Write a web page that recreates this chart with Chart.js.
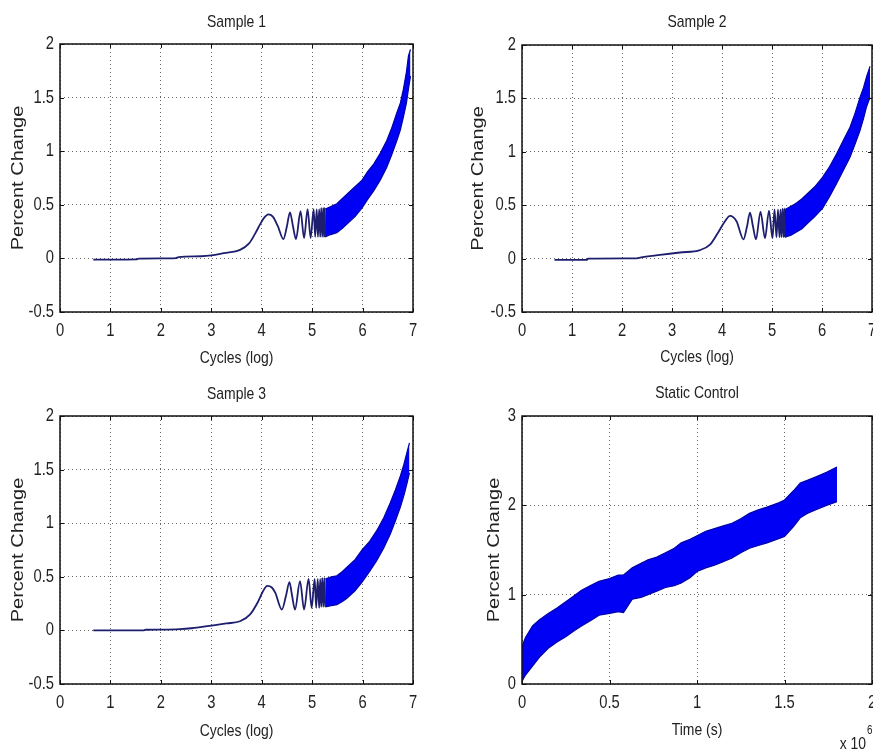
<!DOCTYPE html>
<html><head><meta charset="utf-8">
<script src="https://cdn.jsdelivr.net/npm/chart.js@4.4.1/dist/chart.umd.min.js"></script>
<style>
html,body{margin:0;padding:0;background:#fff;}
#wrap{position:relative;width:873px;height:753px;overflow:hidden;background:#fff;}
canvas{position:absolute;}
</style></head><body>
<div id="wrap">
<canvas id="c1" width="436" height="376" style="left:0;top:0"></canvas>
<canvas id="c2" width="437" height="376" style="left:436px;top:0"></canvas>
<canvas id="c3" width="436" height="380" style="left:0;top:373px"></canvas>
<canvas id="c4" width="437" height="380" style="left:436px;top:373px"></canvas>
</div>
<script>
// ---------- Data ----------
const titles = ['Sample 1', 'Sample 2', 'Sample 3', 'Static Control'];
const xTitleCycles = 'Cycles (log)';
const xTitleTime = 'Time (s)';
const yTitle = 'Percent Change';
const timeExponent = ['x 10', '6'];

const cycleTicks = [0, 1, 2, 3, 4, 5, 6, 7];
const pctTicks = [-0.5, 0, 0.5, 1, 1.5, 2];
const timeTicks = [0, 0.5, 1, 1.5, 2];      // x 10^6 s
const staticTicks = [0, 1, 2, 3];

// Sample 1: low-amplitude line, then band (upper/lower envelope)
const s1LineX = [0.66, 1.0, 1.52, 1.56, 2.0, 2.3, 2.35, 2.8, 3.0, 3.25, 3.57, 3.75, 3.88, 3.97, 4.05, 4.13, 4.22, 4.32, 4.43, 4.5, 4.56, 4.62, 4.68, 4.77, 4.84, 4.91, 4.97, 5.03, 5.06, 5.09, 5.115, 5.14, 5.16, 5.18, 5.2, 5.22, 5.235, 5.25, 5.26];
const s1LineY = [-0.012, -0.012, -0.01, -0.002, 0.0, 0.003, 0.012, 0.02, 0.028, 0.05, 0.08, 0.14, 0.24, 0.32, 0.38, 0.41, 0.39, 0.3, 0.18, 0.3, 0.43, 0.3, 0.18, 0.44, 0.19, 0.46, 0.19, 0.46, 0.2, 0.46, 0.2, 0.46, 0.2, 0.47, 0.2, 0.47, 0.2, 0.47, 0.2];
const s1BandX = [5.26, 5.35, 5.49, 5.6, 5.69, 5.85, 5.99, 6.1, 6.22, 6.35, 6.48, 6.58, 6.68, 6.75, 6.81, 6.87, 6.91, 6.95];
const s1BandUpper = [0.46, 0.48, 0.51, 0.56, 0.60, 0.67, 0.73, 0.81, 0.88, 0.98, 1.10, 1.22, 1.36, 1.45, 1.58, 1.74, 1.89, 1.95];
const s1BandLower = [0.20, 0.22, 0.24, 0.28, 0.32, 0.39, 0.47, 0.55, 0.63, 0.73, 0.85, 0.97, 1.10, 1.20, 1.32, 1.45, 1.58, 1.70];

// Sample 2
const s2LineX = [0.65, 1.3, 1.32, 2.3, 2.36, 2.76, 3.16, 3.56, 3.76, 3.93, 4.06, 4.16, 4.29, 4.43, 4.5, 4.56, 4.62, 4.68, 4.77, 4.86, 4.94, 5.01, 5.05, 5.09, 5.12, 5.15, 5.17, 5.19, 5.21, 5.23, 5.245, 5.26];
const s2LineY = [-0.012, -0.012, 0.0, 0.003, 0.01, 0.035, 0.057, 0.08, 0.13, 0.25, 0.35, 0.40, 0.35, 0.18, 0.3, 0.43, 0.3, 0.18, 0.44, 0.19, 0.45, 0.19, 0.46, 0.2, 0.46, 0.2, 0.46, 0.2, 0.47, 0.2, 0.47, 0.2];
const s2BandX = [5.26, 5.38, 5.49, 5.6, 5.69, 5.85, 6.01, 6.15, 6.29, 6.42, 6.56, 6.66, 6.76, 6.83, 6.89, 6.96];
const s2BandUpper = [0.46, 0.49, 0.52, 0.56, 0.60, 0.67, 0.76, 0.86, 0.98, 1.10, 1.23, 1.36, 1.51, 1.60, 1.70, 1.80];
const s2BandLower = [0.20, 0.22, 0.25, 0.28, 0.32, 0.39, 0.47, 0.58, 0.70, 0.82, 0.95, 1.07, 1.20, 1.31, 1.42, 1.51];

// Sample 3
const s3LineX = [0.66, 1.65, 1.7, 2.0, 2.38, 2.6, 3.04, 3.3, 3.57, 3.77, 3.93, 4.02, 4.11, 4.2, 4.27, 4.4, 4.48, 4.55, 4.6, 4.66, 4.76, 4.84, 4.93, 4.99, 5.05, 5.08, 5.11, 5.14, 5.16, 5.18, 5.2, 5.22, 5.24, 5.26];
const s3LineY = [0.0, 0.0, 0.006, 0.008, 0.012, 0.02, 0.047, 0.065, 0.085, 0.15, 0.27, 0.36, 0.415, 0.4, 0.35, 0.195, 0.32, 0.45, 0.33, 0.195, 0.46, 0.195, 0.48, 0.21, 0.48, 0.21, 0.48, 0.21, 0.48, 0.22, 0.49, 0.22, 0.49, 0.22];
const s3BandX = [5.26, 5.38, 5.49, 5.6, 5.69, 5.85, 5.99, 6.14, 6.28, 6.42, 6.55, 6.65, 6.75, 6.82, 6.88, 6.93];
const s3BandUpper = [0.48, 0.50, 0.51, 0.55, 0.59, 0.66, 0.75, 0.83, 0.93, 1.05, 1.19, 1.31, 1.44, 1.55, 1.66, 1.75];
const s3BandLower = [0.22, 0.23, 0.24, 0.27, 0.30, 0.37, 0.45, 0.55, 0.65, 0.77, 0.90, 1.02, 1.15, 1.26, 1.37, 1.47];

// Static control (time in units of 10^6 s)
const stX = [0, 0.02, 0.06, 0.1, 0.15, 0.2, 0.25, 0.3, 0.34, 0.4, 0.44, 0.5, 0.55, 0.58, 0.63, 0.68, 0.72, 0.77, 0.82, 0.87, 0.91, 0.96, 1.0, 1.05, 1.1, 1.15, 1.2, 1.25, 1.3, 1.35, 1.4, 1.47, 1.5, 1.55, 1.59, 1.63, 1.68, 1.74, 1.8];
const stUpper = [0.42, 0.52, 0.65, 0.72, 0.79, 0.85, 0.92, 0.99, 1.05, 1.11, 1.15, 1.18, 1.22, 1.22, 1.30, 1.35, 1.39, 1.42, 1.47, 1.52, 1.58, 1.62, 1.66, 1.71, 1.74, 1.77, 1.80, 1.85, 1.91, 1.95, 1.98, 2.03, 2.06, 2.16, 2.25, 2.28, 2.32, 2.37, 2.43];
const stLower = [0.03, 0.10, 0.20, 0.30, 0.40, 0.47, 0.53, 0.60, 0.65, 0.72, 0.77, 0.79, 0.81, 0.80, 0.95, 0.97, 1.00, 1.04, 1.08, 1.10, 1.13, 1.19, 1.26, 1.30, 1.33, 1.37, 1.41, 1.47, 1.52, 1.55, 1.58, 1.63, 1.65, 1.76, 1.86, 1.91, 1.95, 2.00, 2.04];

// ---------- Styling ----------
const NARROW = "'Liberation Sans', sans-serif";   // drawn horizontally condensed
const LONG = "Arial, sans-serif";                  // drawn horizontally stretched (y title)
const TEXT = '#222';
const LINE_COLOR = '#1e1e6e';
const BAND_FILL = '#0000f5';
const BAND_EDGE = '#0000a8';

// The reference figure was resampled: horizontal text looks condensed, rotated text elongated.
const _fillText = CanvasRenderingContext2D.prototype.fillText;
CanvasRenderingContext2D.prototype.fillText = function (text, x, y, maxWidth) {
  const f = this.font;
  let sx = 1;
  if (f.indexOf('Liberation Sans') >= 0) sx = 0.82;
  else if (f.indexOf('Arial') >= 0) sx = 1.25;
  if (sx === 1) {
    return maxWidth === undefined ? _fillText.call(this, text, x, y) : _fillText.call(this, text, x, y, maxWidth);
  }
  this.save();
  this.translate(x, y);
  this.scale(sx, 1);
  if (maxWidth === undefined) _fillText.call(this, text, 0, 0);
  else _fillText.call(this, text, 0, 0, maxWidth / sx);
  this.restore();
};

const pts = (xs, ys) => xs.map((x, i) => ({x, y: ys[i]}));
const fmt = v => String(Math.round(v * 100) / 100);

const framePlugin = {
  id: 'frame',
  afterDatasetsDraw(chart) {
    const {ctx, chartArea: a, scales} = chart;
    ctx.save();
    ctx.strokeStyle = '#111';
    ctx.lineWidth = 1.5;
    ctx.strokeRect(a.left, a.top, a.right - a.left, a.bottom - a.top);
    ctx.lineWidth = 1;
    ctx.beginPath();
    const L = 4;
    scales.x.ticks.forEach(t => {
      const px = Math.round(scales.x.getPixelForValue(t.value)) + 0.5;
      ctx.moveTo(px, a.bottom); ctx.lineTo(px, a.bottom - L);
      ctx.moveTo(px, a.top); ctx.lineTo(px, a.top + L);
    });
    scales.y.ticks.forEach(t => {
      const py = Math.round(scales.y.getPixelForValue(t.value)) + 0.5;
      ctx.moveTo(a.left, py); ctx.lineTo(a.left + L, py);
      ctx.moveTo(a.right, py); ctx.lineTo(a.right - L, py);
    });
    ctx.stroke();
    ctx.restore();
  }
};

function makeChart(id, cfg) {
  const datasets = [];
  if (cfg.lineX) {
    datasets.push({
      data: pts(cfg.lineX, cfg.lineY), borderColor: LINE_COLOR, borderWidth: 1.8,
      pointRadius: 0, fill: false, cubicInterpolationMode: 'monotone'
    });
  }
  datasets.push({
    data: pts(cfg.bandX, cfg.bandUpper), borderColor: BAND_EDGE, borderWidth: 1.2,
    pointRadius: 0, fill: false, tension: 0
  });
  datasets.push({
    data: pts(cfg.bandX, cfg.bandLower), borderColor: BAND_EDGE, borderWidth: 1.2,
    pointRadius: 0, fill: '-1', backgroundColor: BAND_FILL, tension: 0
  });
  const gridCfg = {color: 'rgba(0,0,0,0.6)', lineWidth: 1, drawTicks: false};
  const borderCfg = {display: false, dash: [1, 3]};
  return new Chart(document.getElementById(id), {
    type: 'line',
    data: {datasets},
    plugins: [framePlugin].concat(cfg.extraPlugins || []),
    options: {
      responsive: false, animation: false, events: [],
      layout: {padding: cfg.pad},
      plugins: {
        legend: {display: false}, tooltip: {enabled: false},
        title: {display: true, text: cfg.title, fullSize: false, color: TEXT,
          font: {family: NARROW, size: 17, weight: 'normal', lineHeight: 1.2},
          padding: cfg.titlePad}
      },
      scales: {
        x: {
          type: 'linear', min: cfg.xTicks[0], max: cfg.xTicks[cfg.xTicks.length - 1],
          afterBuildTicks: s => { s.ticks = cfg.xTicks.map(v => ({value: v})); },
          afterFit: s => { s.height = cfg.xH; s.paddingLeft = 0; s.paddingRight = 0; },
          grid: gridCfg, border: borderCfg,
          ticks: {color: TEXT, font: {family: NARROW, size: 18}, padding: 8, maxRotation: 0,
                  autoSkip: false, callback: v => fmt(v)},
          title: {display: true, text: cfg.xTitle, color: TEXT,
                  font: {family: NARROW, size: 17, lineHeight: 1.2}, padding: {top: 0, bottom: cfg.xTitleBottom}}
        },
        y: {
          type: 'linear', min: cfg.yTicks[0], max: cfg.yTicks[cfg.yTicks.length - 1],
          afterBuildTicks: s => { s.ticks = cfg.yTicks.map(v => ({value: v})); },
          afterFit: s => { s.width = cfg.yW; s.paddingTop = 0; s.paddingBottom = 0; },
          grid: gridCfg, border: borderCfg,
          ticks: {color: TEXT, font: {family: NARROW, size: 18}, padding: 6, autoSkip: false,
                  callback: v => fmt(v)},
          title: {display: true, text: yTitle, color: TEXT,
                  font: {family: LONG, size: 16, lineHeight: 1.2}, padding: {top: 8.5, bottom: 0}}
        }
      }
    }
  });
}

makeChart('c1', {
  title: titles[0], xTitle: xTitleCycles, xTicks: cycleTicks, yTicks: pctTicks,
  lineX: s1LineX, lineY: s1LineY, bandX: s1BandX, bandUpper: s1BandUpper, bandLower: s1BandLower,
  pad: {left: 0, top: 0, right: 23, bottom: 0}, titlePad: {top: 11.8, bottom: 11.8},
  yW: 60, xH: 64, xTitleBottom: 7.8
});
makeChart('c2', {
  title: titles[1], xTitle: xTitleCycles, xTicks: cycleTicks, yTicks: pctTicks,
  lineX: s2LineX, lineY: s2LineY, bandX: s2BandX, bandUpper: s2BandUpper, bandLower: s2BandLower,
  pad: {left: 24, top: 0, right: 1, bottom: 0}, titlePad: {top: 11.8, bottom: 12.8},
  yW: 62, xH: 64, xTitleBottom: 8.8
});
makeChart('c3', {
  title: titles[2], xTitle: xTitleCycles, xTicks: cycleTicks, yTicks: pctTicks,
  lineX: s3LineX, lineY: s3LineY, bandX: s3BandX, bandUpper: s3BandUpper, bandLower: s3BandLower,
  pad: {left: 0, top: 0, right: 23, bottom: 0}, titlePad: {top: 10.8, bottom: 11.8},
  yW: 60, xH: 69, xTitleBottom: 11.8
});

const expPlugin = {
  id: 'exponent',
  afterDraw(chart) {
    const {ctx, chartArea: a} = chart;
    ctx.save();
    ctx.fillStyle = TEXT;
    ctx.textBaseline = 'alphabetic';
    ctx.font = '17px ' + NARROW;
    ctx.textAlign = 'right';
    ctx.fillText(timeExponent[0], a.right - 6, a.bottom + 65);
    ctx.font = '12px ' + NARROW;
    ctx.textAlign = 'left';
    ctx.fillText(timeExponent[1], a.right - 5, a.bottom + 50);
    ctx.restore();
  }
};
makeChart('c4', {
  title: titles[3], xTitle: xTitleTime, xTicks: timeTicks, yTicks: staticTicks,
  bandX: stX, bandUpper: stUpper, bandLower: stLower,
  pad: {left: 40, top: 0, right: 1, bottom: 0}, titlePad: {top: 9.8, bottom: 12.8},
  yW: 46, xH: 69, xTitleBottom: 12.8, extraPlugins: [expPlugin]
});
</script>
</body></html>
